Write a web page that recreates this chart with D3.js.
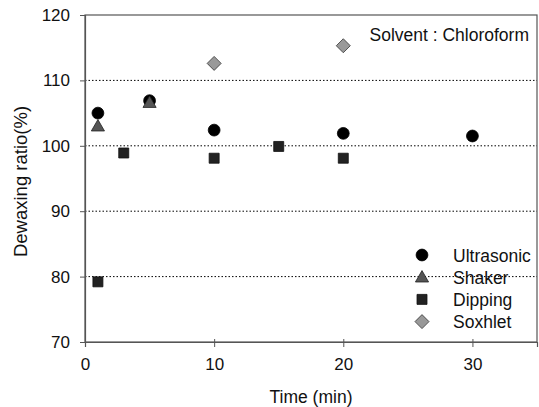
<!DOCTYPE html>
<html><head><meta charset="utf-8">
<script src="https://cdn.jsdelivr.net/npm/d3@7"></script>
<style>body{margin:0;background:#fff}svg{display:block}text{font-family:Arial,"Liberation Sans",sans-serif}</style>
</head><body><svg id="c" width="539" height="407"></svg>
<script>
const ultrasonicX=[1,5,10,20,30], ultrasonicY=[105.0,106.9,102.4,101.9,101.5];
const shakerX=[1,5], shakerY=[103.0,106.6];
const dippingX=[1,3,10,15,20], dippingY=[79.2,98.9,98.1,99.9,98.1];
const soxhletX=[10,20], soxhletY=[112.6,115.3];
const xTicks=[0,10,20,30], yTicks=[70,80,90,100,110,120];
const gridVals=[80,90,100,110];
const seriesNames=["Ultrasonic","Shaker","Dipping","Soxhlet"];

const FF="Arial,'Liberation Sans',sans-serif";
const svg=d3.select("#c");
const m={l:85,r:2,t:15,b:65};
const W=539,H=407;
const x=d3.scaleLinear().domain([0,35]).range([m.l,W-m.r]);
const y=d3.scaleLinear().domain([70,120]).range([H-m.b,m.t]);

svg.append("g").selectAll("line").data(gridVals).join("line")
 .attr("x1",x(0)).attr("x2",x(35)).attr("y1",d=>y(d)).attr("y2",d=>y(d))
 .attr("stroke","#000").attr("stroke-width",1).attr("stroke-dasharray","1.5,2");

svg.append("rect").attr("x",x(0)).attr("y",y(120)).attr("width",x(35)-x(0)).attr("height",y(70)-y(120))
 .attr("fill","none").attr("stroke","#555").attr("stroke-width",1.2);

const xa=svg.append("g").attr("transform",`translate(0,${y(70)})`)
 .call(d3.axisBottom(x).tickValues(xTicks).tickSize(5).tickPadding(11));
xa.selectAll(".tick line").attr("y1",-3);
const ya=svg.append("g").attr("transform",`translate(${x(0)},0)`)
 .call(d3.axisLeft(y).tickValues(yTicks).tickSize(5).tickPadding(10));
[xa,ya].forEach(a=>{a.attr("font-family",FF).attr("font-size",17);
 a.select(".domain").attr("stroke","#555").attr("stroke-width",1.2);
 a.selectAll(".tick line").attr("stroke","#555");
 a.selectAll("text").attr("fill","#111");});

svg.append("text").attr("x",(x(0)+x(35))/2).attr("y",403).attr("text-anchor","middle")
 .attr("font-size",17.5).attr("fill","#111").text("Time (min)");
svg.append("text").attr("transform",`translate(27,${(y(70)+y(120))/2+3}) rotate(-90)`).attr("text-anchor","middle")
 .attr("font-size",18.5).attr("fill","#111").text("Dewaxing ratio(%)");
svg.append("text").attr("x",529).attr("y",41).attr("text-anchor","end")
 .attr("font-size",17.5).attr("fill","#111").text("Solvent : Chloroform");

const diamond={draw(ctx,size){const r=Math.sqrt(size/2);ctx.moveTo(0,-r);ctx.lineTo(r,0);ctx.lineTo(0,r);ctx.lineTo(-r,0);ctx.closePath();}};
const sym={
 Ultrasonic:{t:d3.symbolCircle,s:110,f:"#000",st:"#000"},
 Shaker:{t:d3.symbolTriangle,s:75,f:"#555",st:"#222"},
 Dipping:{t:d3.symbolSquare,s:100,f:"#222",st:"#111"},
 Soxhlet:{t:diamond,s:98,f:"#999",st:"#333"}
};
const data=[[ultrasonicX,ultrasonicY],[shakerX,shakerY],[dippingX,dippingY],[soxhletX,soxhletY]];
[2,3,0,1].forEach(i=>{
 const n=seriesNames[i], sp=sym[n];
 const pts=data[i][0].map((v,k)=>[v,data[i][1][k]]);
 svg.append("g").selectAll("path").data(pts).join("path")
  .attr("transform",d=>`translate(${x(d[0])},${y(d[1])+(n==="Shaker"?1:0)})`)
  .attr("d",d3.symbol().type(sp.t).size(sp.s)).attr("fill",sp.f).attr("stroke",sp.st).attr("stroke-width",0.8);
});

const lg=svg.append("g");
seriesNames.forEach((n,i)=>{
 const yy=255+i*22.2, sp=sym[n];
 lg.append("path").attr("transform",`translate(422,${yy+(n==="Shaker"?1:0)})`).attr("d",d3.symbol().type(sp.t).size(sp.s))
  .attr("fill",sp.f).attr("stroke",sp.st).attr("stroke-width",0.8);
 lg.append("text").attr("x",453).attr("y",yy+6.5).attr("font-size",17.5).attr("fill","#111").text(n);
});
</script></body></html>
